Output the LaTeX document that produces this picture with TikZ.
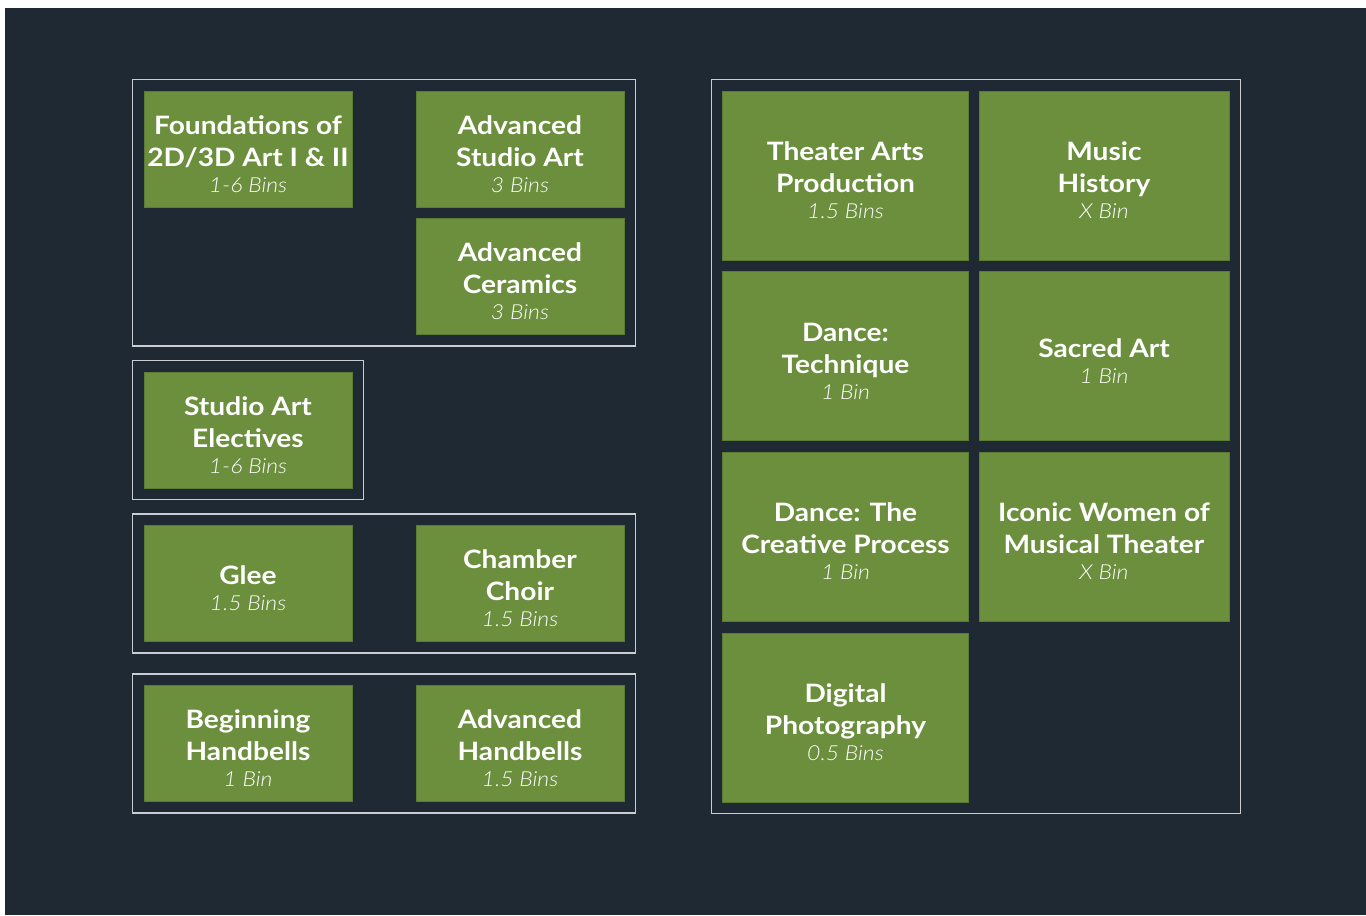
\documentclass[tikz,border=0pt]{standalone}
\usepackage{fontspec}
\setmainfont{Lato}[FakeStretch=1.11]
\IfFontExistsTF{Lato Light}
  {\newfontfamily\binsfont{Lato Light}[FakeStretch=1.11]}
  {\newfontfamily\binsfont{Lato}[FakeStretch=1.11]}
\usepackage{xcolor}
\usetikzlibrary{fit}
\definecolor{slate}{HTML}{1E2933}
\definecolor{leaf}{HTML}{6B8F3D}
\definecolor{leafedge}{HTML}{5C7C35}
\definecolor{rim}{HTML}{C9CCD0}
\newcommand{\course}[2]{\rule{0pt}{21.5pt}#1\\[-4.5pt]{\binsfont\mdseries\itshape\fontsize{15.5}{18}\selectfont #2}}

\begin{document}
\begin{tikzpicture}[x=0.75pt,y=-0.75pt,
  course/.style={fill=leaf,draw=leafedge,line width=0.6pt,text=white,align=center,inner sep=0pt,
    font=\bfseries\fontsize{19}{24}\selectfont},
  smallcourse/.style={course,minimum width=156pt,minimum height=87pt},
  bigcourse/.style={course,minimum width=184pt,minimum height=126.75pt},
  groupframe/.style={draw=rim,line width=1.1pt,inner sep=8.25pt}]
% page and background
\fill[white] (0,0) rectangle (1366,915);
\fill[slate] (5,8) rectangle (1366,915);
% visual arts
\node[smallcourse] (found) at (248,149) {\course{Foundations of\\2D/3D Art I \& II}{1-6 Bins}};
\node[smallcourse] (advstudio) at (520,149) {\course{Advanced\\Studio Art}{3 Bins}};
\node[smallcourse] (advceram) at (520,276.5) {\course{Advanced\\Ceramics}{3 Bins}};
\node[smallcourse] (electives) at (248,430) {\course{Studio Art\\Electives}{1-6 Bins}};
% choirs and handbells
\node[smallcourse] (glee) at (248,583.5) {\course{Glee}{1.5 Bins}};
\node[smallcourse] (choir) at (520,583.5) {\course{Chamber\\Choir}{1.5 Bins}};
\node[smallcourse] (beghand) at (248,743.5) {\course{Beginning\\Handbells}{1 Bin}};
\node[smallcourse] (advhand) at (520,743.5) {\course{Advanced\\Handbells}{1.5 Bins}};
% right hand block
\node[bigcourse] (theater) at (845.5,175.5) {\course{Theater Arts\\Production}{1.5 Bins}};
\node[bigcourse,minimum width=187.5pt] (music) at (1104,175.5) {\course{Music\\History}{X Bin}};
\node[bigcourse] (dancetech) at (845.5,356) {\course{Dance:\\Technique}{1 Bin}};
\node[bigcourse,minimum width=187.5pt] (sacred) at (1104,356) {\course{Sacred Art}{1 Bin}};
\node[bigcourse] (dancecreat) at (845.5,536.5) {\course{Dance: The\\Creative Process}{1 Bin}};
\node[bigcourse,minimum width=187.5pt] (iconic) at (1104,536.5) {\course{Iconic Women of\\Musical Theater}{X Bin}};
\node[bigcourse] (photo) at (845.5,717.5) {\course{Digital\\Photography}{0.5 Bins}};
% frames
\node[groupframe,fit=(found)(advstudio)(advceram)] (artframe) {};
\node[groupframe,fit=(electives)] (electframe) {};
\node[groupframe,fit=(glee)(choir)] (choirframe) {};
\node[groupframe,fit=(beghand)(advhand)] (bellframe) {};
\node[groupframe,fit=(theater)(music)(photo)] (stageframe) {};
\end{tikzpicture}
\end{document}
